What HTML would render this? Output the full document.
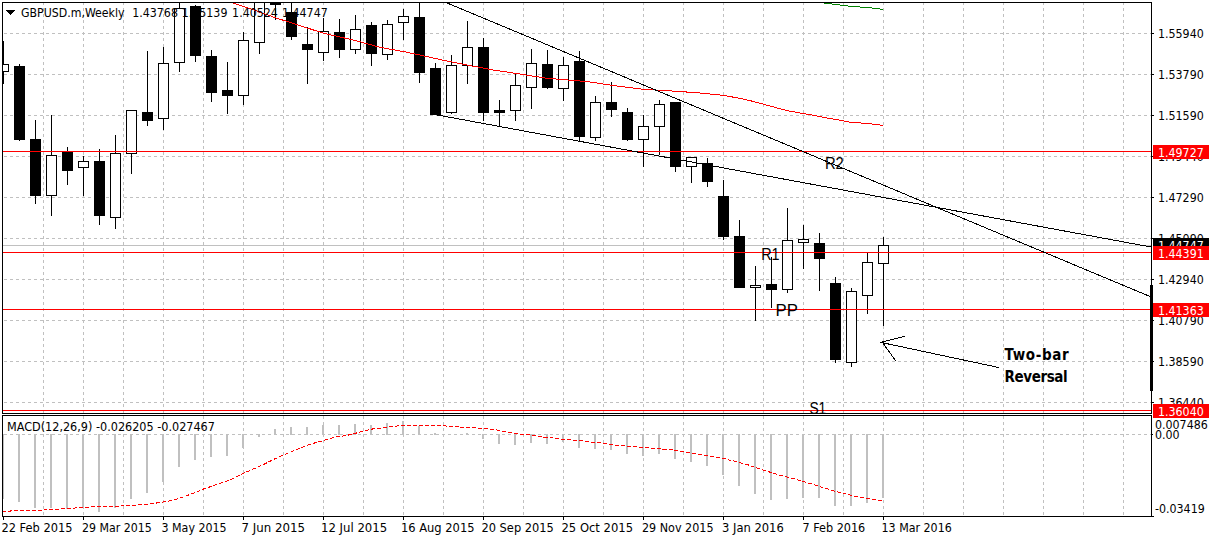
<!DOCTYPE html><html><head><meta charset="utf-8"><title>GBPUSD.m,Weekly</title><style>html,body{margin:0;padding:0;background:#fff;}body{width:1211px;height:540px;overflow:hidden;position:relative;}svg{display:block;position:absolute;left:0;top:0;}.t{font-family:"DejaVu Sans Condensed","DejaVu Sans","Liberation Sans",sans-serif;font-stretch:condensed;font-size:12.3px;fill:#000;}.a{font-family:"Liberation Sans",Arial,sans-serif;font-size:16px;fill:#000;}.b{font-family:"DejaVu Sans Condensed","DejaVu Sans","Liberation Sans",sans-serif;font-stretch:condensed;font-weight:bold;font-size:15px;fill:#000;}</style></head><body>
<svg width="1211" height="540" viewBox="0 0 1211 540">
<defs><clipPath id="cm"><rect x="3" y="3" width="1148" height="410"/></clipPath><clipPath id="cd"><rect x="3" y="416" width="1148" height="100"/></clipPath></defs>
<rect width="1211" height="540" fill="#fff"/>
<path d="M43.5 2V413M83.5 2V413M123.5 2V413M163.5 2V413M203.5 2V413M243.5 2V413M283.5 2V413M323.5 2V413M363.5 2V413M403.5 2V413M443.5 2V413M483.5 2V413M523.5 2V413M563.5 2V413M603.5 2V413M643.5 2V413M683.5 2V413M723.5 2V413M763.5 2V413M803.5 2V413M843.5 2V413M883.5 2V413M923.5 2V413M963.5 2V413M1003.5 2V413M1043.5 2V413M1083.5 2V413M1123.5 2V413M4 33.5H1151M4 74.5H1151M4 115.5H1151M4 156.5H1151M4 197.5H1151M4 238.5H1151M4 279.5H1151M4 320.5H1151M4 361.5H1151M4 402.5H1151" stroke="#c0c0c0" stroke-width="1" stroke-dasharray="3,3" fill="none" shape-rendering="crispEdges"/>
<path d="M43.5 416V516M83.5 416V516M123.5 416V516M163.5 416V516M203.5 416V516M243.5 416V516M283.5 416V516M323.5 416V516M363.5 416V516M403.5 416V516M443.5 416V516M483.5 416V516M523.5 416V516M563.5 416V516M603.5 416V516M643.5 416V516M683.5 416V516M723.5 416V516M763.5 416V516M803.5 416V516M843.5 416V516M883.5 416V516M923.5 416V516M963.5 416V516M1003.5 416V516M1043.5 416V516M1083.5 416V516M1123.5 416V516M4 434.5H1151" stroke="#c0c0c0" stroke-width="1" stroke-dasharray="3,3" fill="none" shape-rendering="crispEdges"/>
<g clip-path="url(#cm)" shape-rendering="crispEdges">
<g fill="#fff"><rect x="-2" y="64" width="11" height="7.5"/><rect x="46" y="155" width="11" height="40.5"/><rect x="78" y="161" width="11" height="6.5"/><rect x="110" y="153" width="11" height="64.5"/><rect x="126" y="110.4" width="11" height="42.849999999999994"/><rect x="158" y="63.3" width="11" height="54.7"/><rect x="174" y="8.5" width="11" height="53.5"/><rect x="238" y="40.2" width="11" height="55.3"/><rect x="254" y="2.5" width="11" height="39.9"/><rect x="318" y="31.2" width="11" height="21.3"/><rect x="350" y="29.4" width="11" height="20.300000000000004"/><rect x="382" y="24.5" width="11" height="30.0"/><rect x="398" y="16.5" width="11" height="5.899999999999999"/><rect x="446" y="65" width="11" height="47.5"/><rect x="462" y="47.2" width="11" height="18.200000000000003"/><rect x="510" y="85.2" width="11" height="25.299999999999997"/><rect x="526" y="63.2" width="11" height="24.299999999999997"/><rect x="558" y="65.5" width="11" height="23.299999999999997"/><rect x="590" y="102.3" width="11" height="34.89999999999999"/><rect x="638" y="126.4" width="11" height="13.099999999999994"/><rect x="654" y="104.3" width="11" height="22.10000000000001"/><rect x="686" y="157.8" width="11" height="8.399999999999977"/><rect x="750" y="285.3" width="11" height="2.1999999999999886"/><rect x="782" y="240" width="11" height="49.30000000000001"/><rect x="798" y="239.3" width="11" height="3.0999999999999943"/><rect x="846" y="291.5" width="11" height="70.89999999999998"/><rect x="862" y="262.2" width="11" height="33.19999999999999"/><rect x="878" y="245.2" width="11" height="18.30000000000001"/></g>
<path d="M3 245.5H1151" stroke="#c0c0c0" stroke-width="1"/>
<path d="M3.5 41V64M3.5 71.5V84M19.5 64V66M19.5 140V141M35.5 120V139M35.5 196V204M51.5 115V155M51.5 195.5V216M67.5 147V152M67.5 170.5V184.5M83.5 156V161M83.5 167.5V196M99.5 149V161M99.5 216V225M115.5 135V153M115.5 217.5V229M131.5 110V110.4M131.5 153.25V174M147.5 51V112M147.5 120.6V125.7M163.5 47V63.3M163.5 118V130M179.5 2V8.5M179.5 62V72M195.5 5V6M195.5 55.6V62M211.5 50V56M211.5 92.5V102M227.5 62V90M227.5 96V114M243.5 32V40.2M243.5 95.5V104.5M259.5 2V2.5M259.5 42.4V53.9M275.5 2V2.5M275.5 4.7V19.8M291.5 2.5V12M291.5 36.7V39.8M307.5 27.4V44M307.5 49.7V84M323.5 18V31.2M323.5 52.5V60.5M339.5 19V32M339.5 49.7V57.7M355.5 15V29.4M355.5 49.7V53.9M371.5 22V25M371.5 53.9V65.9M387.5 20V24.5M387.5 54.5V60M403.5 8.75V16.5M403.5 22.4V40.1M419.5 2V17M419.5 72.8V82.5M435.5 63.3V68.2M451.5 55V65M451.5 112.5V114M467.5 21.3V47.2M467.5 65.4V84M483.5 38.2V46.9M483.5 113V121M499.5 100V110M499.5 113V126.3M515.5 73.8V85.2M515.5 110.5V120.8M531.5 49V63.2M531.5 87.5V108.8M547.5 50V64M547.5 88V88.8M563.5 57V65.5M563.5 88.8V100.8M579.5 51.2V60.8M579.5 136.6V141M595.5 96V102.3M595.5 137.2V141M611.5 82V102M611.5 109.7V116.9M627.5 108V112.1M627.5 139.8V140.5M643.5 115.1V126.4M643.5 139.5V167M659.5 100V104.3M659.5 126.4V155M675.5 167V171.6M691.5 166.2V182.6M707.5 158.3V163.3M707.5 182V186.8M723.5 180.1V195.8M723.5 236.6V239.6M739.5 220V236.4M755.5 265.9V285.3M755.5 287.5V320.7M771.5 257V284.2M771.5 289.6V307.8M787.5 208.1V240M787.5 289.3V292.6M803.5 224.8V239.3M803.5 242.4V268.7M819.5 233.1V243.1M819.5 258.7V290.7M835.5 277V283.1M835.5 359.6V362.8M851.5 288.3V291.5M851.5 362.4V366.7M867.5 253V262.2M867.5 295.4V313.9M883.5 237.2V245.2M883.5 263.5V325.9" stroke="#000" stroke-width="1" fill="none"/>
<g fill="#000"><rect x="14" y="66" width="11" height="74"/><rect x="30" y="139" width="11" height="57"/><rect x="62" y="152" width="11" height="18.5"/><rect x="94" y="161" width="11" height="55"/><rect x="142" y="112" width="11" height="8.599999999999994"/><rect x="190" y="6" width="11" height="49.6"/><rect x="206" y="56" width="11" height="36.5"/><rect x="222" y="90" width="11" height="6"/><rect x="270" y="2.5" width="11" height="2.2"/><rect x="286" y="12" width="11" height="24.700000000000003"/><rect x="302" y="44" width="11" height="5.700000000000003"/><rect x="334" y="32" width="11" height="17.700000000000003"/><rect x="366" y="25" width="11" height="28.9"/><rect x="414" y="17" width="11" height="55.8"/><rect x="430" y="68.2" width="11" height="46.8"/><rect x="478" y="46.9" width="11" height="66.1"/><rect x="494" y="110" width="11" height="3"/><rect x="542" y="64" width="11" height="24"/><rect x="574" y="60.8" width="11" height="75.8"/><rect x="606" y="102" width="11" height="7.700000000000003"/><rect x="622" y="112.1" width="11" height="27.700000000000017"/><rect x="670" y="102" width="11" height="65"/><rect x="702" y="163.3" width="11" height="18.69999999999999"/><rect x="718" y="195.8" width="11" height="40.79999999999998"/><rect x="734" y="236.4" width="11" height="51.29999999999998"/><rect x="766" y="284.2" width="11" height="5.400000000000034"/><rect x="814" y="243.1" width="11" height="15.599999999999994"/><rect x="830" y="283.1" width="11" height="76.5"/></g>
<g fill="none" stroke="#000" stroke-width="1"><rect x="-1.5" y="64.5" width="10" height="7"/><rect x="46.5" y="155.5" width="10" height="40"/><rect x="78.5" y="161.5" width="10" height="6"/><rect x="110.5" y="153.5" width="10" height="64"/><rect x="126.5" y="110.5" width="10" height="43"/><rect x="158.5" y="63.5" width="10" height="55"/><rect x="174.5" y="8.5" width="10" height="54"/><rect x="238.5" y="40.5" width="10" height="55"/><rect x="254.5" y="2.5" width="10" height="40"/><rect x="318.5" y="31.5" width="10" height="21"/><rect x="350.5" y="29.5" width="10" height="20"/><rect x="382.5" y="24.5" width="10" height="30"/><rect x="398.5" y="16.5" width="10" height="6"/><rect x="446.5" y="65.5" width="10" height="47"/><rect x="462.5" y="47.5" width="10" height="18"/><rect x="510.5" y="85.5" width="10" height="25"/><rect x="526.5" y="63.5" width="10" height="24"/><rect x="558.5" y="65.5" width="10" height="23"/><rect x="590.5" y="102.5" width="10" height="35"/><rect x="638.5" y="126.5" width="10" height="13"/><rect x="654.5" y="104.5" width="10" height="22"/><rect x="686.5" y="157.5" width="10" height="9"/><rect x="750.5" y="285.5" width="10" height="2"/><rect x="782.5" y="240.5" width="10" height="49"/><rect x="798.5" y="239.5" width="10" height="3"/><rect x="846.5" y="291.5" width="10" height="71"/><rect x="862.5" y="262.5" width="10" height="33"/><rect x="878.5" y="245.5" width="10" height="18"/></g>
</g>
<g clip-path="url(#cm)">
<path d="M3 151.5H1151M3 252.5H1151M3 309.5H1151M3 410.5H1151" stroke="#f00" stroke-width="1" shape-rendering="crispEdges"/>
<polyline points="228,1.8 232.3,2.9 255.6,10.6 275.6,17.8 300,25.6 315,30.5 326.7,34 353.3,40 380,47.3 406.7,52.2 423.3,55.8 436,58.6 450,61.7 466.7,64.9 493.3,70 520,74 546.7,78.3 573.3,80.4 590,82 616.7,86 643.3,89.3 670,90.9 696.7,92.7 723.3,95.3 740,98.4 752.4,101.2 764.8,104.6 777.2,108 789.6,111.1 802,113.3 814.3,115.4 826.7,117.9 839.1,120.1 851.5,122.5 863.9,123.2 876.3,124.4 883,125.6" fill="none" stroke="#f00" stroke-width="1" shape-rendering="crispEdges"/>
<path d="M824 3h8v1h-8zM832 4h8v1h-8zM840 5h8v1h-8zM848 6h12v1h-12zM860 7h12v1h-12zM872 8h8v1h-8zM880 9h3v1h-3z" fill="#008000" shape-rendering="crispEdges"/>
<path d="M446 2.5L1151 296.9M437.5 115L1151 247" stroke="#000" stroke-width="1" fill="none" shape-rendering="crispEdges"/>
<path d="M999.1 367.6L880.5 342.3M882.5 342L905 336.3M882.5 342.5L895.8 361" stroke="#000" stroke-width="1" fill="none" shape-rendering="crispEdges"/>
</g>
<path d="M6 10h9v1h-9zM7 11h7v1h-7zM8 12h5v1h-5zM9 13h3v1h-3zM10 14h1v1h-1z" fill="#000" shape-rendering="crispEdges"/>
<text class="t" x="21" y="17.2" textLength="103.5" lengthAdjust="spacingAndGlyphs">GBPUSD.m,Weekly</text>
<text class="t" x="132.2" y="17.2" textLength="45.75" lengthAdjust="spacingAndGlyphs">1.43768</text>
<text class="t" x="181.7" y="17.2" textLength="45.75" lengthAdjust="spacingAndGlyphs">1.45139</text>
<text class="t" x="232.1" y="17.2" textLength="45.75" lengthAdjust="spacingAndGlyphs">1.40524</text>
<text class="t" x="282" y="17.2" textLength="45.75" lengthAdjust="spacingAndGlyphs">1.44747</text>
<g clip-path="url(#cm)">
<text class="a" x="824.9" y="169" textLength="18.9" lengthAdjust="spacingAndGlyphs">R2</text>
<text class="a" x="761.2" y="260" textLength="18.4" lengthAdjust="spacingAndGlyphs">R1</text>
<text class="a" x="775.6" y="316" textLength="22.3" lengthAdjust="spacingAndGlyphs">PP</text>
<text class="a" x="809.4" y="414" textLength="16.8" lengthAdjust="spacingAndGlyphs">S1</text>
<text class="b" x="1004.6" y="360" textLength="64" lengthAdjust="spacing">Two-bar</text>
<text class="b" x="1004.6" y="382" textLength="63" lengthAdjust="spacing">Reversal</text>
</g>
<g fill="none" stroke="#000" stroke-width="1" shape-rendering="crispEdges">
<rect x="2.5" y="2.5" width="1149" height="411"/>
<rect x="2.5" y="415.5" width="1149" height="101"/>
</g>
<rect x="1150" y="285" width="3" height="106" fill="#000"/>
<text class="t" x="1158" y="38" textLength="45.75" lengthAdjust="spacingAndGlyphs">1.55940</text>
<text class="t" x="1158" y="79" textLength="45.75" lengthAdjust="spacingAndGlyphs">1.53790</text>
<text class="t" x="1158" y="120" textLength="45.75" lengthAdjust="spacingAndGlyphs">1.51590</text>
<text class="t" x="1158" y="161" textLength="45.75" lengthAdjust="spacingAndGlyphs">1.49440</text>
<text class="t" x="1158" y="202" textLength="45.75" lengthAdjust="spacingAndGlyphs">1.47290</text>
<text class="t" x="1158" y="243" textLength="45.75" lengthAdjust="spacingAndGlyphs">1.45090</text>
<text class="t" x="1158" y="284" textLength="45.75" lengthAdjust="spacingAndGlyphs">1.42940</text>
<text class="t" x="1158" y="325" textLength="45.75" lengthAdjust="spacingAndGlyphs">1.40790</text>
<text class="t" x="1158" y="366" textLength="45.75" lengthAdjust="spacingAndGlyphs">1.38590</text>
<text class="t" x="1158" y="407" textLength="45.75" lengthAdjust="spacingAndGlyphs">1.36440</text>
<path d="M1152 33.5H1154M1152 74.5H1154M1152 115.5H1154M1152 156.5H1154M1152 197.5H1154M1152 238.5H1154M1152 279.5H1154M1152 320.5H1154M1152 361.5H1154M1152 402.5H1154M1152 434.5H1153M1152 516.5H1154" stroke="#000" stroke-width="1" shape-rendering="crispEdges"/>
<rect x="1153" y="238" width="56" height="14" fill="#000"/><text class="t" x="1158" y="249.6" style="fill:#fff" textLength="45.75" lengthAdjust="spacingAndGlyphs">1.44747</text>
<rect x="1152" y="238" width="1" height="1" fill="#000"/>
<rect x="1153" y="145" width="56" height="14" fill="#f00"/><text class="t" x="1158" y="156.6" style="fill:#fff" textLength="45.75" lengthAdjust="spacingAndGlyphs">1.49727</text>
<rect x="1153" y="246" width="56" height="14" fill="#f00"/><text class="t" x="1158" y="257.6" style="fill:#fff" textLength="45.75" lengthAdjust="spacingAndGlyphs">1.44391</text>
<rect x="1153" y="303" width="56" height="14" fill="#f00"/><text class="t" x="1158" y="314.6" style="fill:#fff" textLength="45.75" lengthAdjust="spacingAndGlyphs">1.41363</text>
<rect x="1153" y="404" width="56" height="14" fill="#f00"/><text class="t" x="1158" y="415.6" style="fill:#fff" textLength="45.75" lengthAdjust="spacingAndGlyphs">1.36040</text>
<text class="t" x="1155" y="428.5" textLength="52.78" lengthAdjust="spacingAndGlyphs">0.007486</text>
<text class="t" x="1155" y="438.6" textLength="24.63" lengthAdjust="spacingAndGlyphs">0.00</text>
<text class="t" x="1155" y="513.2" textLength="49.73" lengthAdjust="spacingAndGlyphs">-0.03419</text>
<g clip-path="url(#cd)" shape-rendering="crispEdges">
<g fill="#c0c0c0"><rect x="2" y="434" width="2" height="65"/><rect x="18" y="434" width="2" height="68"/><rect x="34" y="434" width="2" height="74"/><rect x="50" y="434" width="2" height="74"/><rect x="66" y="434" width="2" height="75"/><rect x="82" y="434" width="2" height="74"/><rect x="98" y="434" width="2" height="78"/><rect x="114" y="434" width="2" height="74"/><rect x="130" y="434" width="2" height="65"/><rect x="146" y="434" width="2" height="59"/><rect x="162" y="434" width="2" height="48"/><rect x="178" y="434" width="2" height="33"/><rect x="194" y="434" width="2" height="26"/><rect x="210" y="434" width="2" height="23"/><rect x="226" y="434" width="2" height="22"/><rect x="242" y="434" width="2" height="14"/><rect x="258" y="434" width="2" height="3"/><rect x="274" y="429" width="2" height="6"/><rect x="290" y="427" width="2" height="8"/><rect x="306" y="427" width="2" height="8"/><rect x="322" y="425" width="2" height="10"/><rect x="338" y="425" width="2" height="10"/><rect x="354" y="424" width="2" height="11"/><rect x="370" y="425" width="2" height="10"/><rect x="386" y="423" width="2" height="12"/><rect x="402" y="421" width="2" height="14"/><rect x="418" y="426" width="2" height="9"/><rect x="434" y="433" width="2" height="2"/><rect x="466" y="433" width="2" height="2"/><rect x="482" y="434" width="2" height="5"/><rect x="498" y="434" width="2" height="10"/><rect x="514" y="434" width="2" height="11"/><rect x="530" y="434" width="2" height="9"/><rect x="546" y="434" width="2" height="10"/><rect x="562" y="434" width="2" height="8"/><rect x="578" y="434" width="2" height="14"/><rect x="594" y="434" width="2" height="15"/><rect x="610" y="434" width="2" height="16"/><rect x="626" y="434" width="2" height="20"/><rect x="642" y="434" width="2" height="22"/><rect x="658" y="434" width="2" height="20"/><rect x="674" y="434" width="2" height="25"/><rect x="690" y="434" width="2" height="28"/><rect x="706" y="434" width="2" height="32"/><rect x="722" y="434" width="2" height="41"/><rect x="738" y="434" width="2" height="52"/><rect x="754" y="434" width="2" height="60"/><rect x="770" y="434" width="2" height="66"/><rect x="786" y="434" width="2" height="65"/><rect x="802" y="434" width="2" height="64"/><rect x="818" y="434" width="2" height="64"/><rect x="834" y="434" width="2" height="72"/><rect x="850" y="434" width="2" height="72"/><rect x="866" y="434" width="2" height="69"/><rect x="882" y="434" width="2" height="64"/></g>
</g>
<g clip-path="url(#cd)"><polyline points="2,511.5 10,511.5 11,510.5 43,510.5 45,509.4 59,509.4 61,508.5 74,508.5 76,507.5 88,507.5 90,506.5 120,506.5 122,505.5 134.8,505.2 141.7,504.5 153.6,503.5 159.6,502.5 166.5,501.5 172.4,500.2 178.4,498.5 184.3,496.6 190.3,494.3 196.2,492.3 202.7,489.3 208.1,487.5 214.1,485.4 220,483.4 226.6,481.3 233,478.6 238.9,475.4 244.8,472.7 250.7,470.1 256.6,467.7 263.1,464.7 269,461.8 274.9,458.8 280.8,456.1 286.4,453.7 291.9,451.5 298.3,448.7 304.3,446.5 310.2,444.3 316.2,442.5 322.6,440.8 328.6,439 334.5,437.3 340.5,436.4 346.4,435.4 352.8,434.2 358.3,432.4 364.2,431.2 370.2,429.4 376.1,428.4 382.1,428.1 388,427.2 394,426.4 401,425.4 442.6,425.4 448.5,426.4 458.4,426.4 460.4,427.4 472.3,427.4 478.2,428.4 485.2,428.4 490.1,429.4 496.1,429.9 502,431.1 508,432.2 513.9,433.4 519.9,434.1 526.8,434.6 532.8,435.4 538.7,436.4 544.7,437.4 550.6,437.6 556.6,438.6 562.5,439.6 568.5,439.6 574.4,440.6 580.4,440.6 586.3,441.6 592.3,442.5 598.2,442.5 604.2,443.5 610.1,444.5 617,445.5 623,445.5 628.9,446.5 634.4,446.4 640.4,447.4 646.3,447.4 652.3,448.4 658.2,448.4 664.6,449.4 670.6,449.4 676.5,450.4 682.5,451.4 688.4,452.4 694.4,453.4 700.3,454.4 706.3,455.4 712.2,456.4 718.2,457.3 724.1,458.3 730.1,460.3 736,461.3 742.3,463.6 748.2,464.9 754.2,467.2 760.1,468.9 766,470.9 772,472.8 777.9,474.6 784.5,476.4 790.5,478.1 796.4,479.4 802.4,481.2 808.3,483 814.3,484.7 820.2,486.7 826.2,488.4 832.1,490.4 838,492 844,493.6 849.9,494.9 855.9,496.6 861.8,497.3 867.8,498.3 873.7,499.3 881.6,500.6 883,500.8" fill="none" stroke="#f00" stroke-width="1" stroke-dasharray="4,2" shape-rendering="crispEdges"/></g>
<text class="t" x="7" y="431" style="font-size:12.5px" textLength="207.94" lengthAdjust="spacingAndGlyphs">MACD(12,26,9) -0.026205 -0.027467</text>
<text class="t" x="1.49" y="531.9" style="font-size:12.5px" textLength="70.94" lengthAdjust="spacingAndGlyphs">22 Feb 2015</text>
<text class="t" x="82.01" y="531.9" style="font-size:12.5px" textLength="69.75" lengthAdjust="spacingAndGlyphs">29 Mar 2015</text>
<text class="t" x="161.51" y="531.9" style="font-size:12.5px" textLength="65.14" lengthAdjust="spacingAndGlyphs">3 May 2015</text>
<text class="t" x="241.47" y="531.9" style="font-size:12.5px" textLength="63.56" lengthAdjust="spacingAndGlyphs">7 Jun 2015</text>
<text class="t" x="320.94" y="531.9" style="font-size:12.5px" textLength="66.25" lengthAdjust="spacingAndGlyphs">12 Jul 2015</text>
<text class="t" x="400.97" y="531.9" style="font-size:12.5px" textLength="73.57" lengthAdjust="spacingAndGlyphs">16 Aug 2015</text>
<text class="t" x="481.49" y="531.9" style="font-size:12.5px" textLength="72.28" lengthAdjust="spacingAndGlyphs">20 Sep 2015</text>
<text class="t" x="561.49" y="531.9" style="font-size:12.5px" textLength="71.56" lengthAdjust="spacingAndGlyphs">25 Oct 2015</text>
<text class="t" x="642.0" y="531.9" style="font-size:12.5px" textLength="71.51" lengthAdjust="spacingAndGlyphs">29 Nov 2015</text>
<text class="t" x="721.99" y="531.9" style="font-size:12.5px" textLength="61.78" lengthAdjust="spacingAndGlyphs">3 Jan 2016</text>
<text class="t" x="802.5" y="531.9" style="font-size:12.5px" textLength="62.77" lengthAdjust="spacingAndGlyphs">7 Feb 2016</text>
<text class="t" x="881.52" y="531.9" style="font-size:12.5px" textLength="70.25" lengthAdjust="spacingAndGlyphs">13 Mar 2016</text>
<path d="M3.5 517V520M83.5 517V520M163.5 517V520M243.5 517V520M323.5 517V520M403.5 517V520M483.5 517V520M563.5 517V520M643.5 517V520M723.5 517V520M803.5 517V520M883.5 517V520" stroke="#000" stroke-width="1" shape-rendering="crispEdges"/>
</svg></body></html>
